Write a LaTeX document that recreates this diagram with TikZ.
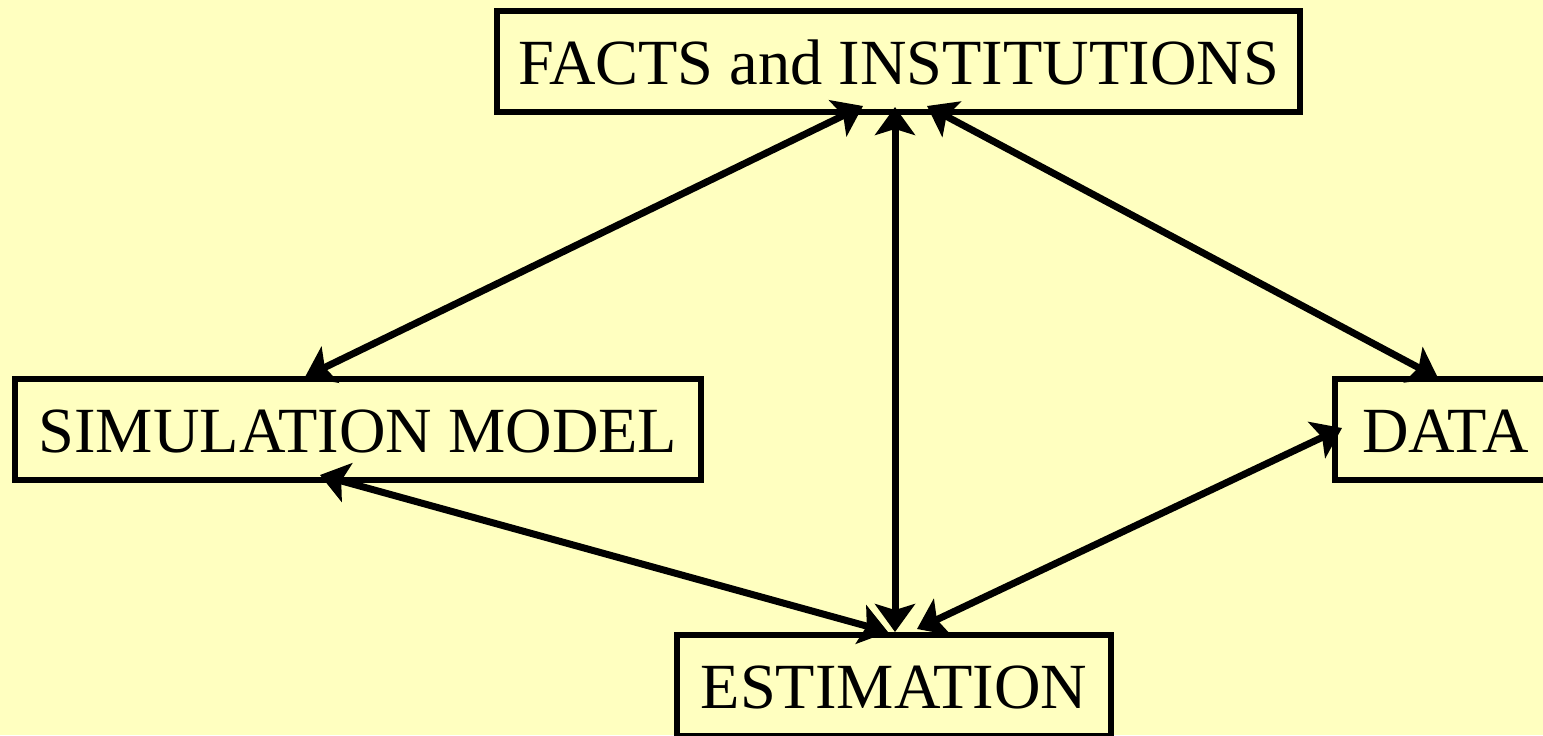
\documentclass[tikz,border=0pt]{standalone}
\usepackage{fontspec}
\setmainfont{Liberation Serif}
\usetikzlibrary{arrows.meta,calc}
\definecolor{bgyellow}{RGB}{255,255,192}
\begin{document}
\begin{tikzpicture}[x=0.5pt,y=-0.5pt,
  box/.style={draw=black,line width=3pt,fill=bgyellow,inner sep=0pt,outer sep=0pt,
    minimum height=50.5pt,
    font=\fontsize{32.2}{38}\selectfont,text height=23.2pt,text depth=0pt},
  link/.style={line width=3.5pt,{Stealth[length=14pt,width=20pt,inset=3pt]}-{Stealth[length=14pt,width=20pt,inset=3pt]}}]
\fill[bgyellow] (0,0) rectangle (1543,735);
\useasboundingbox (0,0) rectangle (1543,735);
\begin{scope}
\clip (0,0) rectangle (1543,735);
\node[box,minimum width=401.5pt] (facts) at (898.5,61.5) {FACTS and INSTITUTIONS};
\node[box,minimum width=343pt] (sim) at (358,429.5) {SIMULATION MODEL};
\node[box,anchor=west,inner xsep=13.5pt] (data) at (1335,429.5) {DATA};
\node[box,minimum width=217pt] (est) at (894,685.5) {ESTIMATION};
\draw[link] ($(sim.north)+(-53,-2)$) -- ($(facts.south)+(-35.5,-6)$);
\draw[link] ($(facts.south)+(-3.5,-5)$) -- ($(est.north)+(1,-3)$);
\draw[link] ($(facts.south)+(28.5,-6)$) -- ($(data.north west)+(103,-1)$);
\draw[link] ($(sim.south)+(-38,-5)$) -- ($(est.north)+(-6,-3)$);
\draw[link] ($(est.north)+(23,-6)$) -- ($(data.west)+(7,-1.5)$);
\end{scope}
\end{tikzpicture}
\end{document}
